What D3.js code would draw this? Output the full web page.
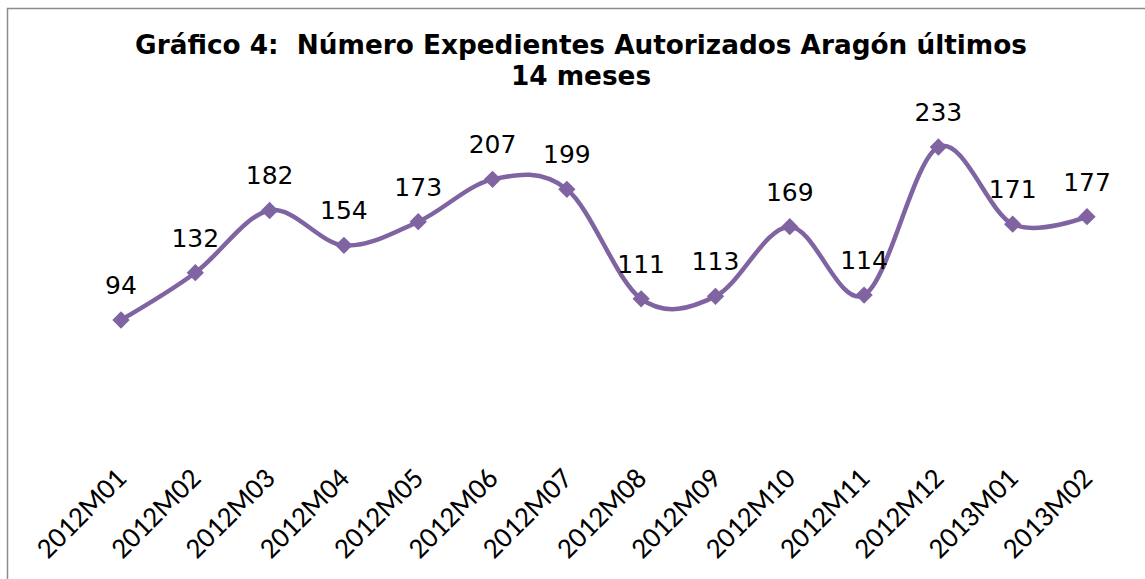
<!DOCTYPE html>
<html><head><meta charset="utf-8">
<script src="https://cdn.jsdelivr.net/npm/d3@7"></script>
<style>body{margin:0;background:#fff}svg{display:block}</style>
</head><body>
<script>
const categories = ["2012M01","2012M02","2012M03","2012M04","2012M05","2012M06","2012M07","2012M08","2012M09","2012M10","2012M11","2012M12","2013M01","2013M02"];
const values = [94,132,182,154,173,207,199,111,113,169,114,233,171,177];
const titleLines = ["Gráfico 4:  Número Expedientes Autorizados Aragón últimos","14 meses"];

const W=1145,H=579;
const svg=d3.select("body").append("svg").attr("width",W).attr("height",H);
svg.append("rect").attr("x",7.5).attr("y",8.5).attr("width",1145).attr("height",600)
  .attr("fill","#fff").attr("stroke","#8c8c8c").attr("stroke-width",1.5);

svg.append("text").attr("x",581).attr("y",54).attr("text-anchor","middle")
  .style("font-family","DejaVu Sans, Verdana").style("font-weight","bold").style("font-size","26.3px")
  .style("white-space","pre")
  .selectAll("tspan").data(titleLines).join("tspan")
  .attr("x",581).attr("dy",(d,i)=>i?31:0).text(d=>d);

const x=d3.scalePoint().domain(categories).range([121,1087]);
const y=d3.scaleLinear().domain([0,250]).range([437,437-250*1.2446]);

const line=d3.line().x((d,i)=>x(categories[i])).y(d=>y(d)).curve(d3.curveCatmullRom.alpha(0));
svg.append("path").datum(values).attr("d",line).attr("fill","none")
  .attr("stroke","#8064A2").attr("stroke-width",4.5);

const sym=d3.symbol().type(d3.symbolSquare).size(150);
svg.selectAll(".m").data(values).join("path").attr("class","m")
  .attr("d",sym).attr("fill","#8064A2")
  .attr("transform",(d,i)=>`translate(${x(categories[i])},${y(d)}) rotate(45)`);

svg.selectAll(".lbl").data(values).join("text").attr("class","lbl")
  .attr("x",(d,i)=>x(categories[i])).attr("y",d=>y(d)-26)
  .attr("text-anchor","middle").style("font-family","DejaVu Sans, Verdana").style("font-size","25px")
  .attr("fill","#000").text(d=>d);

const ax=svg.append("g");
ax.selectAll("text").data(categories).join("text")
  .attr("transform",d=>`translate(${x(d)+7},${480}) rotate(-45)`)
  .attr("text-anchor","end").style("font-family","Carlito, Liberation Sans, Arial").style("font-size","29px")
  .text(d=>d);
</script>
</body></html>
